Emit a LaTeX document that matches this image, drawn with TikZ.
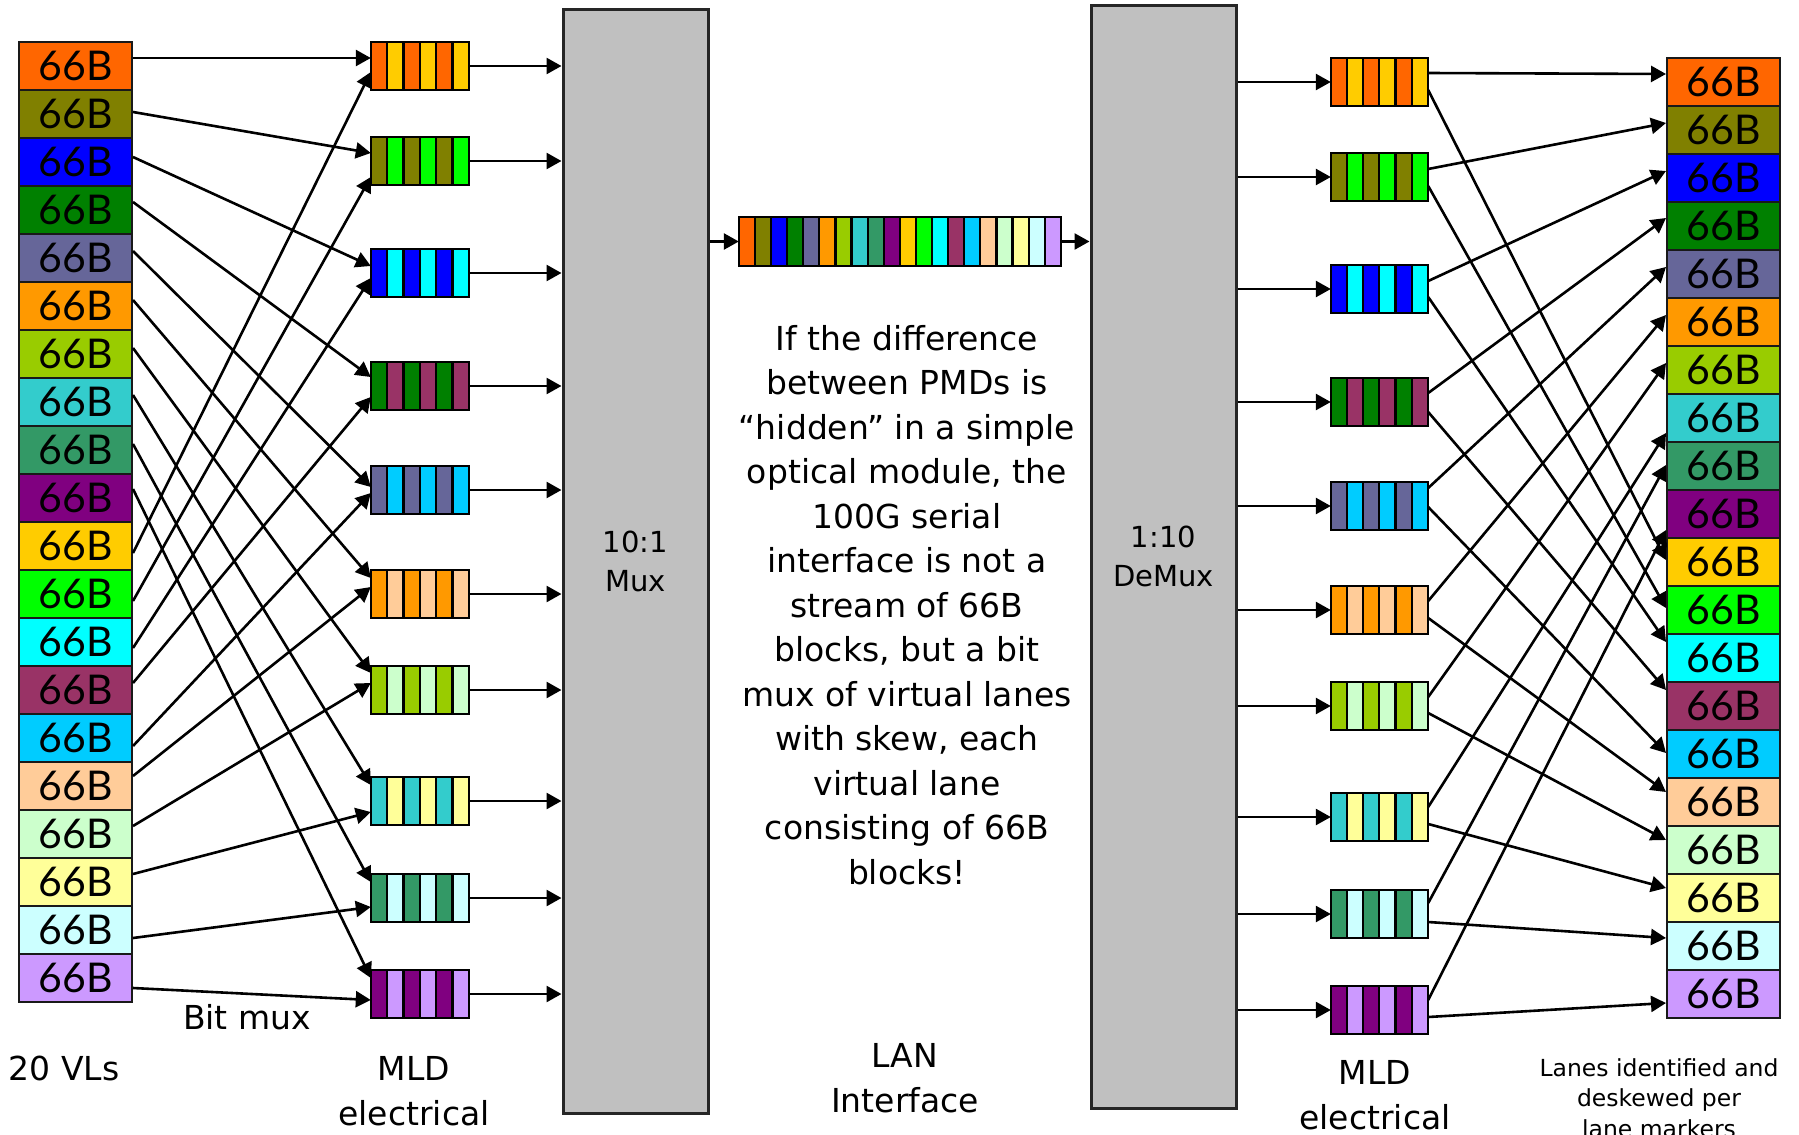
\documentclass[tikz,border=0pt]{standalone}
\usepackage{fontspec}
\setmainfont{DejaVu Sans}
\newfontfamily\blockfont{Lato}
\definecolor{vl1}{HTML}{FF6600}
\definecolor{vl2}{HTML}{808000}
\definecolor{vl3}{HTML}{0000FF}
\definecolor{vl4}{HTML}{008000}
\definecolor{vl5}{HTML}{666699}
\definecolor{vl6}{HTML}{FF9900}
\definecolor{vl7}{HTML}{99CC00}
\definecolor{vl8}{HTML}{33CCCC}
\definecolor{vl9}{HTML}{339966}
\definecolor{vl10}{HTML}{800080}
\definecolor{vl11}{HTML}{FFCC00}
\definecolor{vl12}{HTML}{00FF00}
\definecolor{vl13}{HTML}{00FFFF}
\definecolor{vl14}{HTML}{993366}
\definecolor{vl15}{HTML}{00CCFF}
\definecolor{vl16}{HTML}{FFCC99}
\definecolor{vl17}{HTML}{CCFFCC}
\definecolor{vl18}{HTML}{FFFF99}
\definecolor{vl19}{HTML}{CCFFFF}
\definecolor{vl20}{HTML}{CC99FF}
\definecolor{MuxGrey}{HTML}{C0C0C0}
\usetikzlibrary{
    arrows.meta,
    calc,
}

\begin{document}
\begin{tikzpicture}[x=1pt, y=-1pt,
    vlbox/.style={draw=black!90, line width=2pt, minimum width=113pt, minimum height=48pt,
        inner sep=0pt, font=\blockfont\fontsize{41}{41}\selectfont},
    mldbox/.style={minimum width=98pt, minimum height=48pt, inner sep=0pt},
    muxbox/.style={draw=black!85, line width=3pt, fill=MuxGrey, inner sep=0pt,
        align=center, font=\fontsize{29}{39}\selectfont},
    cell/.style={draw=black, line width=2.2pt},
    link/.style={line width=2.6pt, -{Triangle[length=15pt,width=16pt]}},
    lbl/.style={align=center, inner sep=0pt, font=\fontsize{33}{45}\selectfont},
    ]
    \useasboundingbox (0,0) rectangle (1799,1135);
    \clip (0,0) rectangle (1799,1135);

    % virtual lanes, both sides
    \foreach \i in {1,...,20} {
        \node[vlbox, fill=vl\i] (vlL\i) at (75.5, {66+48*(\i-1)}) {66B};
        \node[vlbox, fill=vl\i] (vlR\i) at (1723.5, {82+48*(\i-1)}) {66B};
    }

    % MLD electrical lanes
    \foreach \i/\y in {1/66, 2/161, 3/273, 4/386, 5/490, 6/594, 7/690, 8/801, 9/898, 10/994} {
        \node[mldbox] (mldL\i) at (420, \y) {};
        \node[mldbox, minimum width=97pt] (mldR\i) at (1379.5, \y+16) {};
    }
    \foreach \i [evaluate=\i as \j using int(\i+10)] in {1,...,10} {
        \foreach \k in {0,2,4} {
            \draw[cell, fill=vl\i] ($(mldL\i.north west)+(\k*16.33,0)$) rectangle +(16.33,48);
            \draw[cell, fill=vl\i] ($(mldR\i.north west)+(\k*16.17,0)$) rectangle +(16.17,48);
        }
        \foreach \k in {1,3,5} {
            \draw[cell, fill=vl\j] ($(mldL\i.north west)+(\k*16.33,0)$) rectangle +(16.33,48);
            \draw[cell, fill=vl\j] ($(mldR\i.north west)+(\k*16.17,0)$) rectangle +(16.17,48);
        }
    }

    % mux, demux and the serial stream
    \node[muxbox, minimum width=145pt, minimum height=1104pt] (mux) at (635.5, 561) {10:1\\Mux};
    \node[muxbox, minimum width=145pt, minimum height=1103pt] (demux) at (1163.5, 556.5) {1:10\\DeMux};
    \node[mldbox, minimum width=322pt, minimum height=49pt] (stream) at (900, 241.5) {};
    \foreach \i in {1,...,20}
        \draw[cell, fill=vl\i] ($(stream.north west)+({16.1*(\i-1)},0)$) rectangle +(16.1,49);

    \foreach \i in {1,...,10} {
        \draw[link] (mldL\i.east) -- (mldL\i.east -| mux.west);
        \draw[link] (mldR\i.west -| demux.east) -- (mldR\i.west);
    }
    \draw[link] (mux.east |- stream.west) -- (stream.west);
    \draw[link] (stream.east) -- (stream.east -| demux.west);

    % bit mux into the MLD lanes
    \foreach \s/\a/\t/\b in {1/-8/1/-8, 2/-2/2/-8, 3/-5/3/-7, 4/-8/4/-9, 5/-7/5/-3,
            6/-6/6/-16, 7/-6/7/-17, 8/-7/8/-16, 9/-6/9/-16, 10/-9/10/-16,
            11/7/1/6, 12/7/2/16, 13/6/3/5, 14/-7/4/11, 15/8/5/3,
            16/-10/6/-7, 17/-8/7/-7, 18/-8/8/11, 19/8/9/9, 20/10/10/6}
        \draw[link] ($(vlL\s.east)+(0,\a)$) -- ($(mldL\t.west)+(0,\b)$);

    % lanes sorted back out
    \foreach \s/\a/\t/\b in {1/-9/1/-8, 2/-8/2/-7, 3/-8/3/-7, 4/-9/4/-8, 5/-18/5/-7,
            6/-9/6/-7, 7/-9/7/-7, 8/-10/8/15, 9/-11/9/-1, 10/-10/10/16,
            1/8/11/-2, 2/9/12/-2, 3/8/13/-16, 4/10/14/-16, 5/1/15/-1,
            6/8/16/-10, 7/7/17/-10, 8/7/18/-10, 9/8/19/-8, 10/7/20/9}
        \draw[link] ($(mldR\s.east)+(0,\a)$) -- ($(vlR\t.west)+(0,\b)$);

    % labels
    \node[lbl, anchor=north] (bitmux) at (247, 1004) {Bit mux};
    \node[lbl, anchor=north] (vlcount) at (64, 1056) {20 VLs};
    \node[lbl, anchor=north] (mldLtext) at (414, 1056) {MLD\\electrical};
    \node[lbl, anchor=north] (lantext) at (905, 1043) {LAN\\Interface};
    \node[lbl, anchor=north] (mldRtext) at (1375, 1060) {MLD\\electrical};
    \node[lbl, anchor=north, font=\fontsize{23.5}{30.5}\selectfont] (lanetext) at (1659, 1058)
        {Lanes identified and\\deskewed per\\lane markers};
    \node[lbl, anchor=north, font=\fontsize{33}{44.5}\selectfont] (note) at (907, 325)
        {If the difference\\between PMDs is\\“hidden” in a simple\\optical module, the\\100G serial\\interface is not a\\stream of 66B\\blocks, but a bit\\mux of virtual lanes\\with skew, each\\virtual lane\\consisting of 66B\\blocks!};
\end{tikzpicture}
\end{document}
